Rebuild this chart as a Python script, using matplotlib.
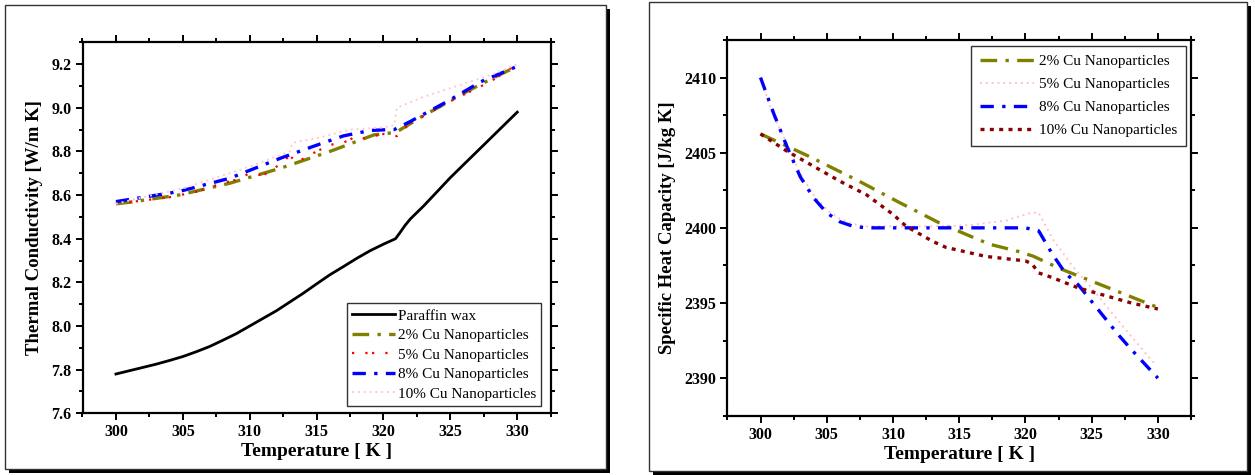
import numpy as np
import matplotlib
matplotlib.use("Agg")
import matplotlib.pyplot as plt
from matplotlib.patches import Rectangle
from matplotlib.ticker import MultipleLocator

plt.rcParams['font.family'] = ['Liberation Serif', 'DejaVu Serif']

# ---- thermal conductivity (left) ----
t_wax = [300, 301, 302, 303, 304, 305, 306, 307, 308, 309, 310, 311, 312, 313, 314, 315, 316, 317, 318, 319, 320,
         320.9, 321.2, 321.6, 322, 323, 325, 327.5, 330]
k_wax = [7.78, 7.795, 7.81, 7.825, 7.842, 7.86, 7.882, 7.906, 7.935, 7.965, 8.0, 8.035, 8.07, 8.11, 8.15, 8.193,
         8.235, 8.272, 8.31, 8.345, 8.375, 8.40, 8.425, 8.46, 8.49, 8.55, 8.68, 8.83, 8.98]

t_k2 = [300, 301, 304.7, 308.5, 312.3, 316, 319.3, 320.6, 321, 322.8, 326, 328.3, 330]
k_k2 = [8.56, 8.567, 8.60, 8.654, 8.723, 8.80, 8.876, 8.885, 8.89, 8.957, 9.067, 9.14, 9.19]

t_k5 = [300, 302, 304, 306, 308, 309, 310, 311, 312, 313, 313.5, 315, 316, 317, 318, 318.5, 320, 321, 322, 325, 328, 330]
k_k5 = [8.56, 8.575, 8.59, 8.615, 8.655, 8.67, 8.70, 8.69, 8.73, 8.78, 8.75, 8.80, 8.83, 8.84, 8.87, 8.86, 8.88, 8.87, 8.93, 9.03, 9.12, 9.20]

t_k8 = [300, 304.7, 308.5, 312.3, 314.7, 317, 319, 320.1, 320.8, 322, 324.8, 327.3, 330]
k_k8 = [8.57, 8.616, 8.677, 8.769, 8.822, 8.871, 8.896, 8.899, 8.90, 8.937, 9.03, 9.12, 9.19]

t_k10 = [300, 302, 305, 308, 310, 313, 313.2, 315, 317.5, 320, 320.8, 321, 323, 325, 328, 330]
k_k10 = [8.56, 8.59, 8.63, 8.69, 8.73, 8.80, 8.84, 8.86, 8.90, 8.91, 8.92, 9.00, 9.05, 9.09, 9.15, 9.20]

# ---- specific heat capacity (right) ----
t_c2 = [300, 303.75, 307.3, 310.5, 313.5, 315.8, 317.3, 319.6, 320.6, 322.6, 326.1, 330]
c_c2 = [2406.25, 2404.72, 2403.17, 2401.68, 2400.33, 2399.46, 2398.91, 2398.40, 2398.11, 2397.29, 2396.07, 2394.7]

t_c5 = [300, 300.85, 302, 303, 304, 305, 306, 307, 308, 310, 314, 316, 318.6, 320.4, 321, 322.1, 323.6, 325, 327.4, 329.6, 330]
c_c5 = [2410, 2407.7, 2405.6, 2403.6, 2402.2, 2401.2, 2400.6, 2400.25, 2400.1, 2400.1, 2400.1, 2400.2, 2400.5, 2401.0, 2401.0, 2399.2, 2397.4, 2396.0, 2393.4, 2391.1, 2391.0]

t_c8 = [300, 301, 302, 303, 304, 305, 306, 307, 308, 320, 321, 322, 323, 324, 325, 326, 327, 328, 329, 330]
c_c8 = [2410, 2407.6, 2405.4, 2403.4, 2402.0, 2401.0, 2400.4, 2400.1, 2400.0, 2400.0, 2399.8, 2398.3, 2397.0, 2396.2, 2395.1, 2394.0, 2392.9, 2391.9, 2390.95, 2390.0]

t_c10 = [300, 302, 304, 306, 308, 310, 311, 312, 313, 314, 315, 317, 319, 320, 320.5, 321, 322, 324, 326, 328, 330]
c_c10 = [2406.25, 2405.1, 2404.1, 2403.1, 2402.2, 2400.9, 2400.1, 2399.6, 2399.1, 2398.7, 2398.5, 2398.1, 2397.9, 2397.8, 2397.6, 2397.0, 2396.7, 2396.0, 2395.5, 2395.0, 2394.6]

fig = plt.figure(figsize=(12.55, 4.75), dpi=100)
W, H = 1255.0, 475.0

# framed panels with a drop shadow
def panel(x0, y0, x1, y1):
    fig.patches.append(Rectangle((x0 / W + 4 / W, 1 - y1 / H - 4 / H), (x1 - x0) / W, (y1 - y0) / H,
                                 transform=fig.transFigure, facecolor='black', edgecolor='none', zorder=-3))
    fig.patches.append(Rectangle((x0 / W, 1 - y1 / H), (x1 - x0) / W, (y1 - y0) / H,
                                 transform=fig.transFigure, facecolor='white', edgecolor='#333333',
                                 linewidth=1.0, zorder=-2))

panel(5, 5, 606, 469)
panel(649, 2, 1247, 471)

ax1 = fig.add_axes([82.5 / W, 1 - 413.3 / H, (550.7 - 82.5) / W, (413.3 - 42.3) / H])
ax2 = fig.add_axes([727.4 / W, 1 - 415.7 / H, (1191 - 727.4) / W, (415.7 - 40) / H])

ax1.plot(t_wax, k_wax, color='black', lw=2.0, label='Paraffin wax')
ax1.plot(t_k2, k_k2, color='#808000', lw=2.4, dashes=(5, 2.5, 1, 2.5), label='2% Cu Nanoparticles')
ax1.plot(t_k5, k_k5, color='#ff0000', lw=1.6, dashes=(1, 5, 1, 2, 1, 5), label='5% Cu Nanoparticles')
ax1.plot(t_k8, k_k8, color='#0000ff', lw=2.4, dashes=(4, 2.5, 1, 2.5), label='8% Cu Nanoparticles')
ax1.plot(t_k10, k_k10, color='#ffc8d2', lw=1.4, dashes=(1, 2), label='10% Cu Nanoparticles')

ax2.plot(t_c2, c_c2, color='#808000', lw=2.4, dashes=(5, 2.5, 1, 2.5), label='2% Cu Nanoparticles')
ax2.plot(t_c5, c_c5, color='#ffc0cb', lw=1.4, dashes=(1, 2), label='5% Cu Nanoparticles')
ax2.plot(t_c8, c_c8, color='#0000ff', lw=2.4, dashes=(4, 2.5, 1, 2.5), label='8% Cu Nanoparticles')
ax2.plot(t_c10, c_c10, color='#8b0000', lw=2.4, dashes=(1.2, 1.6), label='10% Cu Nanoparticles')

ax1.set_xlim(297.5, 332.5)
ax1.set_ylim(7.6, 9.3)
ax1.yaxis.set_major_locator(MultipleLocator(0.2))
ax1.yaxis.set_minor_locator(MultipleLocator(0.1))
ax1.set_ylabel('Thermal Conductivity [W/m K]', fontsize=13.5, fontweight='bold', labelpad=6)

ax2.set_xlim(297.5, 332.5)
ax2.set_ylim(2387.5, 2412.5)
ax2.yaxis.set_major_locator(MultipleLocator(5))
ax2.yaxis.set_minor_locator(MultipleLocator(2.5))
ax2.set_ylabel('Specific Heat Capacity [J/kg K]', fontsize=13.5, fontweight='bold', labelpad=6)

for ax in (ax1, ax2):
    ax.xaxis.set_major_locator(MultipleLocator(5))
    ax.xaxis.set_minor_locator(MultipleLocator(2.5))
    ax.set_xlabel('Temperature [ K ]', fontsize=14, fontweight='bold', labelpad=2)
    for s in ax.spines.values():
        s.set_linewidth(1.6)
    ax.tick_params(which='both', direction='out', top=True, right=True, width=1.4)
    ax.tick_params(which='major', length=5, labelsize=11.5, pad=3)
    ax.tick_params(which='minor', length=3)
    for lbl in ax.get_xticklabels() + ax.get_yticklabels():
        lbl.set_fontweight('bold')

leg1 = ax1.legend(loc='lower right', bbox_to_anchor=(0.98, 0.02), fontsize=11, frameon=True,
                  fancybox=False, edgecolor='black', handlelength=2.8, handletextpad=0.2,
                  labelspacing=0.38, borderpad=0.35, borderaxespad=0)
leg1.get_frame().set_linewidth(1.0)
leg2 = ax2.legend(loc='upper right', bbox_to_anchor=(0.99, 0.985), fontsize=11, frameon=True,
                  fancybox=False, edgecolor='black', handlelength=3.5, handletextpad=0.35,
                  labelspacing=0.6, borderpad=0.6, borderaxespad=0)
leg2.get_frame().set_linewidth(1.0)

fig.savefig('out.png', dpi=100)
